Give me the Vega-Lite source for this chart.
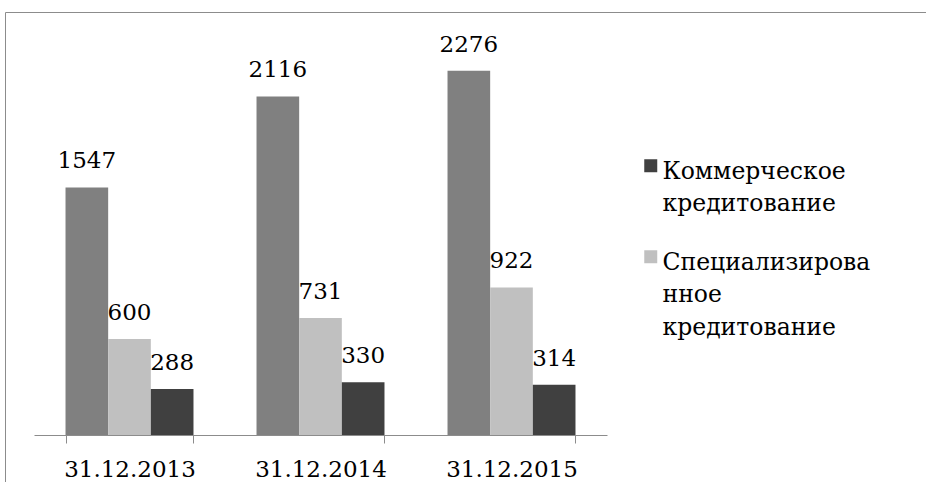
{
  "$schema": "https://vega.github.io/schema/vega-lite/v6.json",
  "width": 924,
  "height": 473,
  "autosize": {"type": "none"},
  "padding": {"left": 5, "top": 12, "right": -3, "bottom": -3},
  "background": "white",
  "config": {
    "view": {"stroke": "#8c8c8c", "strokeWidth": 1},
    "font": "DejaVu Serif",
    "style": {"guide-label": {"lineHeight": 32.5, "dy": -6}}
  },
  "data": {
    "values": [
      {"date": "31.12.2013", "series": "Всего", "value": 1547},
      {"date": "31.12.2013", "series": "Специализированное кредитование", "value": 600},
      {"date": "31.12.2013", "series": "Коммерческое кредитование", "value": 288},
      {"date": "31.12.2014", "series": "Всего", "value": 2116},
      {"date": "31.12.2014", "series": "Специализированное кредитование", "value": 731},
      {"date": "31.12.2014", "series": "Коммерческое кредитование", "value": 330},
      {"date": "31.12.2015", "series": "Всего", "value": 2276},
      {"date": "31.12.2015", "series": "Специализированное кредитование", "value": 922},
      {"date": "31.12.2015", "series": "Коммерческое кредитование", "value": 314}
    ]
  },
  "encoding": {
    "x": {
      "field": "date",
      "type": "nominal",
      "sort": null,
      "scale": {"range": [29, 602], "paddingInner": 0.33, "paddingOuter": 0.165},
      "axis": {
        "title": null,
        "labelAngle": 0,
        "labelFontSize": 23,
        "labelFont": "DejaVu Serif",
        "labelColor": "#000000",
        "domainColor": "#8c8c8c",
        "tickColor": "#8c8c8c",
        "tickSize": 8,
        "tickBand": "extent",
        "labelPadding": 21,
        "offset": -50,
        "grid": false
      }
    },
    "xOffset": {
      "field": "series",
      "type": "nominal",
      "scale": {"domain": ["Всего", "Специализированное кредитование", "Коммерческое кредитование"], "paddingInner": 0, "paddingOuter": 0}
    },
    "y": {
      "field": "value",
      "type": "quantitative",
      "stack": null,
      "scale": {"domain": [-312.5, 2643.75], "nice": false, "zero": false},
      "axis": null
    }
  },
  "layer": [
    {
      "mark": {"type": "bar"},
      "encoding": {
        "color": {
          "field": "series",
          "type": "nominal",
          "scale": {
            "domain": ["Всего", "Специализированное кредитование", "Коммерческое кредитование"],
            "range": ["#808080", "#c0c0c0", "#404040"]
          },
          "legend": {
            "values": ["Коммерческое кредитование", "Специализированное кредитование"],
            "title": null,
            "orient": "none",
            "legendX": 634,
            "legendY": 142,
            "padding": 0,
            "symbolType": "square",
            "symbolSize": 169,
            "symbolStrokeWidth": 0,
            "labelOffset": 0,
            "labelFontSize": 23.5,
            "labelFont": "DejaVu Serif",
            "labelColor": "#000000",
            "labelLimit": 0,
            "labelBaseline": "top",
            "rowPadding": 29,
            "labelExpr": "datum.label == 'Коммерческое кредитование' ? ['Коммерческое', 'кредитование'] : ['Специализирова', 'нное', 'кредитование']"
          }
        }
      }
    },
    {
      "mark": {"type": "text", "fontSize": 23, "font": "DejaVu Serif", "baseline": "alphabetic", "dy": -19, "color": "#000000"},
      "encoding": {
        "text": {"field": "value", "type": "quantitative"}
      }
    }
  ]
}
